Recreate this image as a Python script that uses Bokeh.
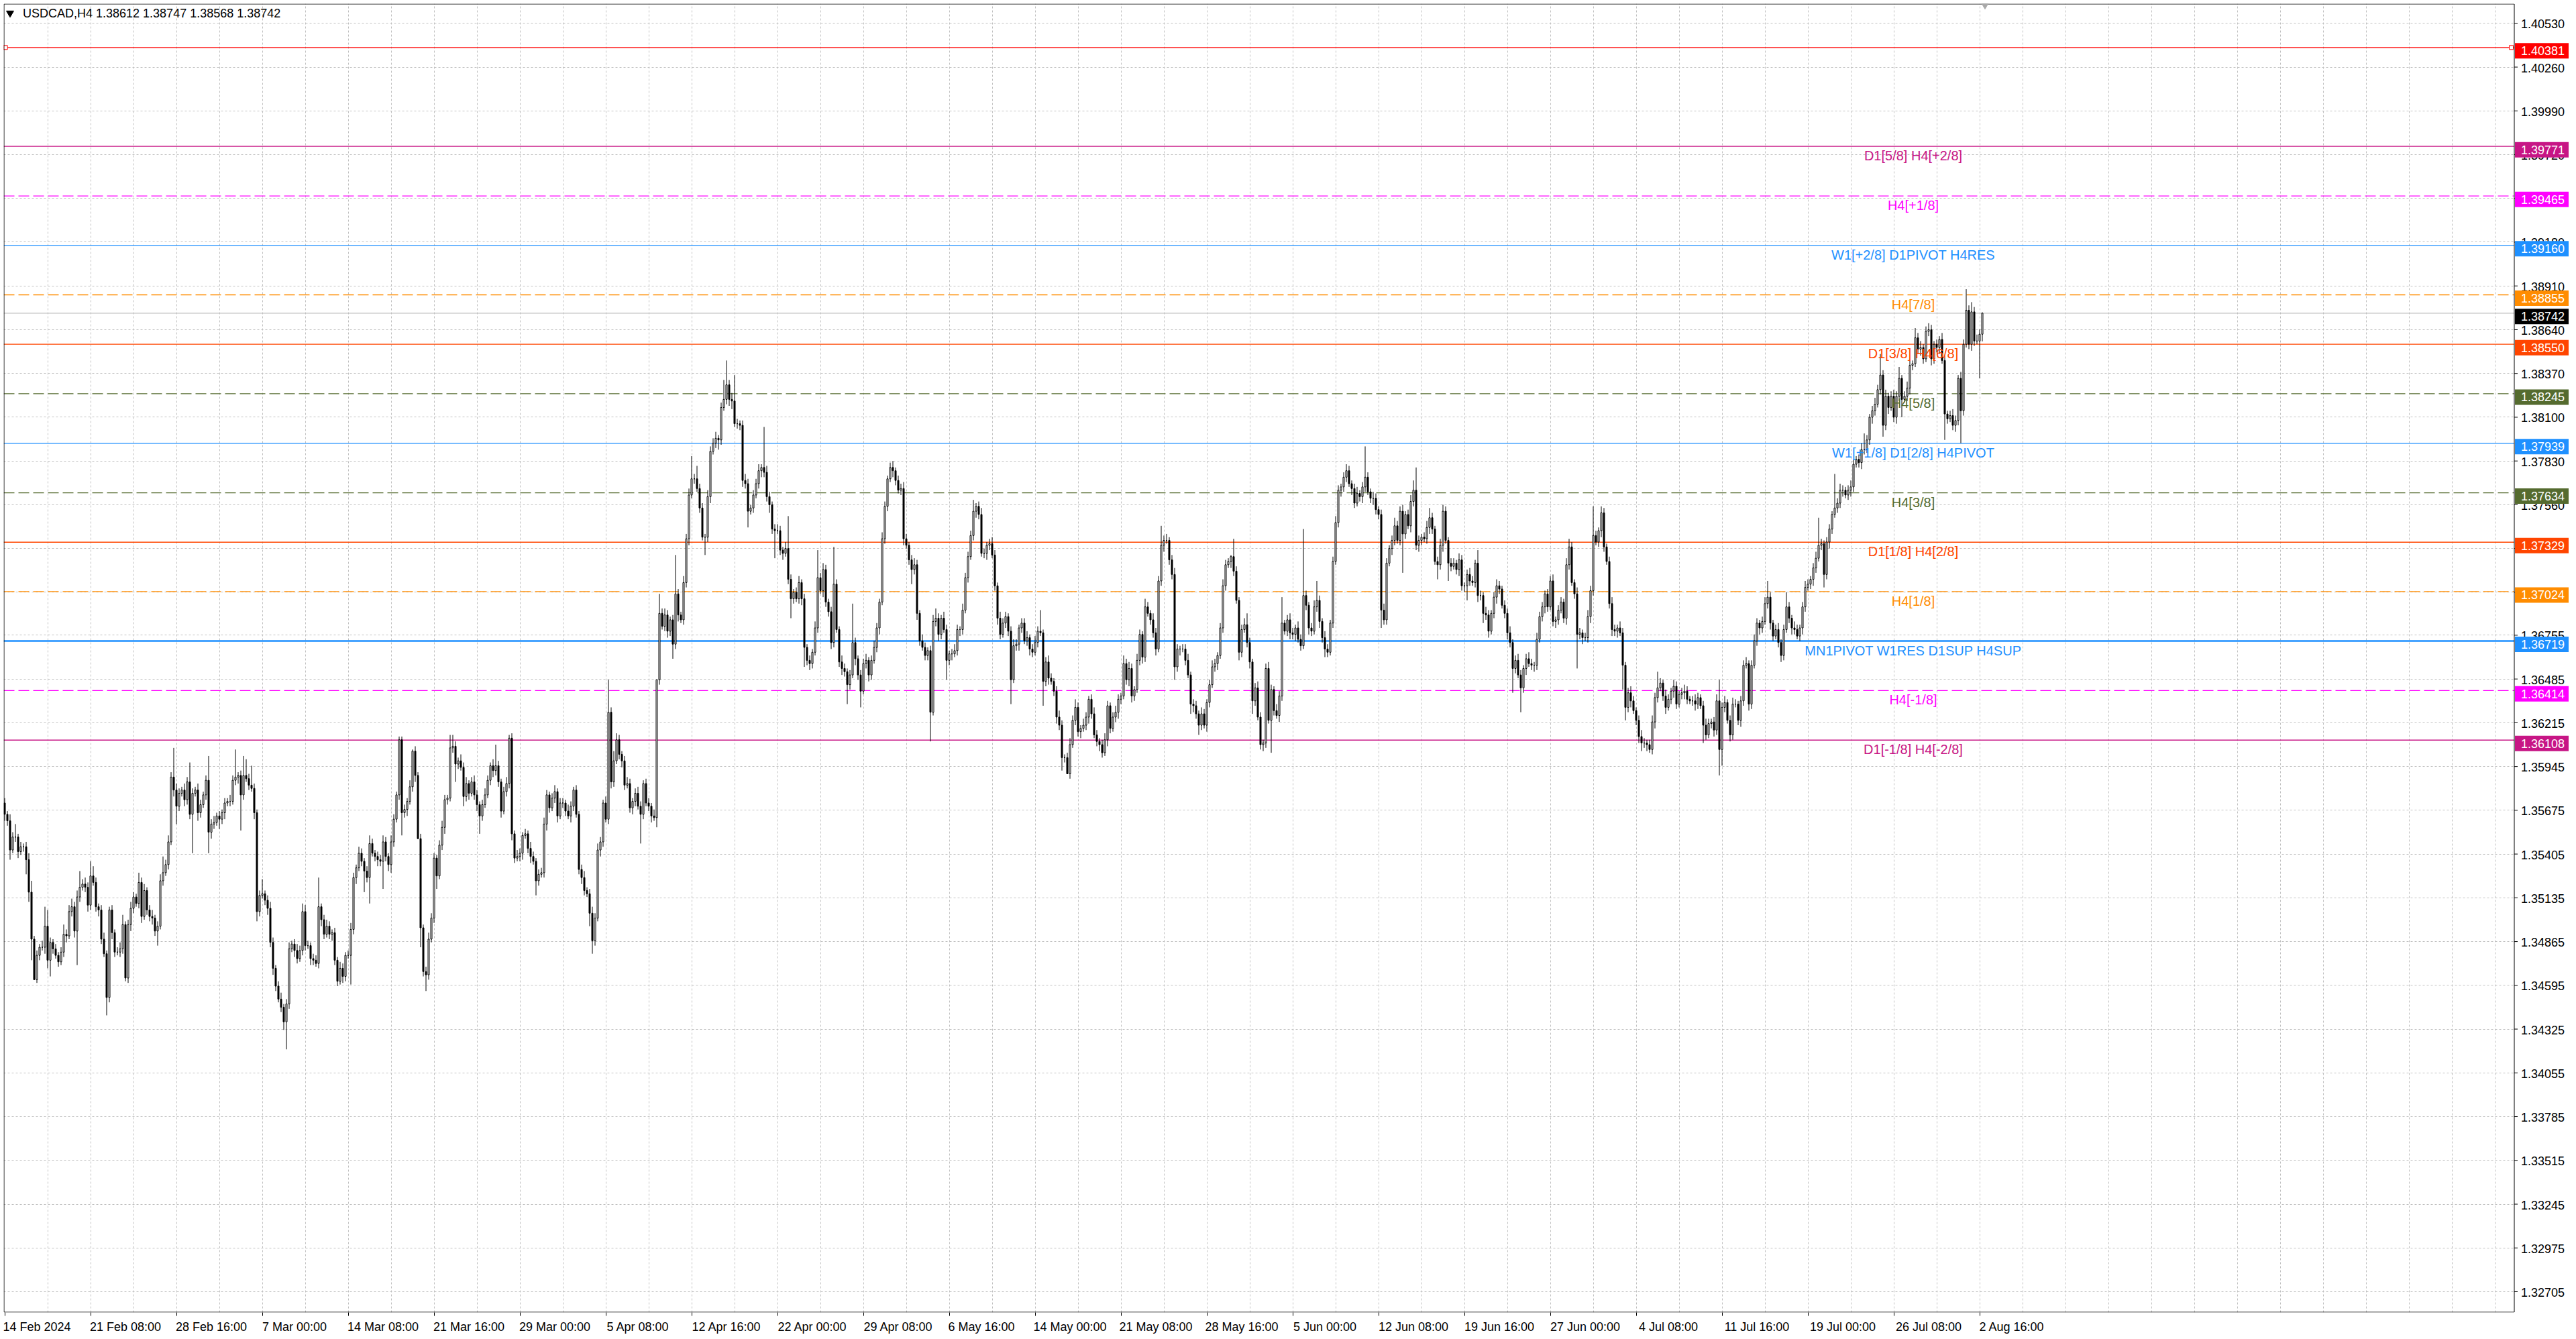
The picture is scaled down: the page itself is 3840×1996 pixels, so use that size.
import numpy as np
from bokeh.plotting import figure
from bokeh.models import FixedTicker, Label
from bokeh.core.properties import value
from bokeh.embed import file_html
from bokeh.resources import INLINE

# USDCAD H4 candles, 14 Feb - 2 Aug 2024.
# prices are pips above 1.3400; open of a bar = close of the bar before
first_open = 172
closes = [
    165, 161, 143, 151, 151, 142, 145, 145, 137, 117, 88, 63, 78, 83, 83, 96, 75, 86, 82, 78,
    74, 80, 91, 90, 105, 108, 93, 114, 120, 122, 120, 109, 127, 123, 108, 106, 88, 79, 52, 106,
    92, 80, 80, 82, 97, 64, 97, 107, 114, 110, 123, 102, 118, 106, 102, 101, 93, 96, 124, 129,
    134, 148, 188, 180, 170, 178, 180, 174, 185, 165, 178, 180, 166, 171, 177, 186, 154, 159, 160, 164,
    162, 166, 172, 173, 173, 186, 188, 189, 177, 189, 187, 183, 181, 166, 105, 115, 116, 112, 107, 86,
    70, 59, 51, 46, 37, 48, 82, 85, 81, 76, 81, 105, 84, 84, 76, 75, 73, 108, 100, 91,
    96, 91, 92, 75, 62, 70, 65, 78, 78, 94, 126, 132, 141, 136, 130, 126, 147, 141, 139, 137,
    136, 148, 139, 134, 148, 162, 177, 211, 166, 168, 173, 182, 204, 189, 150, 95, 68, 66, 88, 101,
    138, 127, 146, 157, 174, 175, 206, 207, 196, 198, 194, 176, 184, 178, 185, 177, 171, 164, 171, 177,
    186, 195, 192, 195, 185, 167, 179, 184, 212, 153, 138, 139, 141, 152, 153, 144, 139, 136, 124, 128,
    129, 159, 177, 169, 175, 179, 164, 172, 172, 167, 164, 170, 180, 165, 131, 126, 118, 116, 104, 87,
    101, 143, 148, 172, 162, 228, 185, 198, 211, 202, 198, 183, 184, 169, 173, 178, 170, 165, 184, 172,
    170, 164, 163, 248, 289, 281, 288, 278, 285, 270, 301, 288, 285, 308, 335, 362, 372, 372, 366, 354,
    336, 336, 361, 389, 394, 397, 396, 416, 421, 430, 421, 420, 406, 406, 405, 371, 369, 352, 354, 362,
    369, 377, 379, 376, 361, 356, 341, 340, 340, 328, 326, 329, 310, 298, 302, 298, 308, 298, 268, 260,
    258, 265, 280, 311, 303, 316, 296, 290, 271, 307, 279, 259, 255, 253, 245, 251, 271, 261, 251, 241,
    258, 260, 251, 260, 268, 280, 296, 335, 355, 372, 379, 377, 371, 365, 366, 335, 331, 322, 316, 319,
    289, 272, 268, 263, 266, 228, 284, 286, 276, 286, 279, 260, 264, 264, 266, 279, 279, 291, 311, 324,
    337, 352, 355, 350, 326, 326, 331, 332, 325, 306, 286, 276, 283, 287, 278, 248, 269, 270, 280, 283,
    272, 274, 267, 265, 271, 278, 277, 247, 259, 249, 247, 241, 225, 220, 200, 200, 190, 208, 223, 231,
    216, 218, 220, 225, 236, 227, 214, 210, 208, 203, 211, 232, 218, 225, 228, 236, 238, 258, 248, 255,
    238, 242, 260, 276, 262, 293, 289, 285, 277, 267, 309, 331, 334, 334, 322, 313, 256, 267, 267, 267,
    260, 251, 233, 232, 227, 220, 227, 220, 234, 245, 256, 258, 263, 280, 306, 319, 321, 324, 315, 297,
    265, 279, 282, 271, 259, 235, 243, 225, 208, 209, 255, 223, 242, 229, 226, 238, 283, 278, 285, 277,
    276, 280, 273, 269, 300, 294, 280, 278, 293, 297, 284, 274, 267, 265, 283, 321, 345, 365, 367, 373,
    377, 369, 366, 357, 363, 361, 367, 373, 364, 360, 360, 353, 350, 291, 285, 320, 329, 334, 343, 334,
    352, 338, 350, 343, 358, 365, 331, 334, 336, 335, 342, 348, 341, 321, 319, 331, 352, 334, 320, 318,
    320, 316, 322, 306, 306, 313, 309, 308, 320, 300, 300, 289, 288, 278, 289, 299, 306, 304, 294, 289,
    277, 271, 255, 260, 251, 243, 255, 261, 258, 257, 257, 273, 287, 293, 301, 293, 309, 284, 285, 291,
    296, 286, 319, 330, 308, 301, 276, 277, 274, 274, 287, 303, 337, 333, 340, 351, 330, 321, 295, 279,
    278, 280, 277, 257, 231, 240, 235, 229, 223, 213, 209, 209, 208, 205, 222, 237, 243, 246, 238, 231,
    236, 241, 244, 233, 239, 240, 241, 236, 235, 235, 233, 237, 232, 220, 214, 221, 222, 217, 235, 205,
    231, 234, 223, 214, 233, 233, 223, 235, 257, 258, 233, 257, 272, 283, 280, 284, 295, 299, 283, 275,
    279, 271, 263, 279, 293, 286, 280, 279, 275, 280, 293, 305, 307, 310, 317, 323, 331, 332, 313, 333,
    341, 350, 354, 357, 365, 365, 362, 365, 367, 381, 384, 382, 390, 390, 396, 410, 414, 418, 427, 436,
    405, 423, 416, 423, 410, 423, 434, 421, 423, 428, 442, 443, 459, 452, 453, 446, 463, 464, 446, 455,
    453, 458, 445, 412, 409, 411, 405, 408, 434, 414, 455, 476, 455, 475, 457, 457, 461.2, 474.2,
]
# wick length above / below the body, pips
wick_up = [
    3, 2, 4, 3, 8, 2, 3, 2, 3, 4, 7, 2, 3, 2, 4, 12, 10, 3, 2, 3,
    2, 3, 6, 3, 4, 5, 3, 4, 10, 3, 4, 3, 9, 6, 3, 2, 3, 4, 2, 2,
    3, 2, 3, 4, 6, 2, 3, 4, 3, 2, 6, 3, 4, 2, 3, 4, 2, 3, 4, 10,
    3, 4, 3, 18, 4, 3, 2, 4, 3, 12, 3, 2, 4, 3, 2, 3, 15, 3, 4, 2,
    3, 2, 3, 2, 4, 3, 17, 2, 3, 12, 10, 3, 12, 3, 2, 3, 9, 2, 3, 4,
    3, 2, 3, 4, 2, 3, 4, 2, 3, 4, 3, 5, 4, 3, 2, 3, 3, 18, 2, 3,
    4, 3, 2, 3, 2, 4, 3, 2, 3, 4, 3, 2, 4, 3, 2, 3, 5, 3, 2, 3,
    3, 4, 3, 2, 4, 3, 2, 2, 2, 3, 2, 4, 1, 3, 2, 3, 2, 3, 4, 3,
    3, 2, 3, 4, 3, 2, 8, 7, 3, 2, 4, 3, 4, 2, 3, 4, 3, 2, 3, 4,
    3, 2, 4, 13, 3, 2, 3, 4, 2, 3, 2, 4, 3, 2, 3, 2, 4, 3, 2, 3,
    3, 4, 3, 2, 3, 4, 2, 3, 3, 2, 4, 3, 2, 3, 2, 3, 4, 2, 3, 4,
    3, 4, 3, 2, 4, 20, 3, 6, 4, 3, 2, 3, 4, 3, 2, 3, 4, 3, 2, 3,
    3, 2, 4, 0, 12, 3, 4, 3, 2, 3, 24, 3, 2, 4, 3, 4, 14, 3, 8, 3,
    3, 2, 4, 3, 3, 4, 2, 3, 12, 15, 3, 4, 16, 3, 2, 3, 4, 3, 2, 3,
    3, 4, 2, 25, 4, 3, 2, 3, 4, 3, 2, 4, 20, 3, 2, 3, 4, 2, 3, 2,
    3, 2, 4, 17, 3, 4, 3, 2, 3, 23, 3, 2, 4, 3, 2, 3, 24, 3, 2, 3,
    3, 4, 2, 3, 4, 3, 2, 4, 3, 2, 3, 4, 2, 3, 3, 4, 3, 2, 3, 4,
    3, 2, 4, 3, 2, 3, 4, 6, 3, 2, 4, 3, 2, 3, 4, 3, 2, 4, 3, 3,
    3, 7, 2, 3, 4, 3, 2, 3, 4, 3, 2, 4, 3, 3, 2, 3, 4, 3, 2, 3,
    3, 4, 2, 3, 4, 3, 13, 2, 3, 4, 3, 2, 3, 4, 3, 2, 3, 4, 3, 5,
    3, 2, 4, 3, 2, 3, 4, 3, 2, 3, 4, 3, 2, 3, 4, 3, 2, 5, 3, 4,
    3, 2, 4, 3, 2, 5, 3, 2, 4, 3, 3, 12, 3, 4, 2, 3, 4, 3, 2, 3,
    3, 4, 2, 3, 3, 2, 4, 3, 2, 3, 4, 3, 2, 3, 4, 3, 2, 1, 11, 3,
    2, 3, 4, 7, 3, 2, 3, 4, 3, 2, 3, 4, 3, 2, 4, 3, 16, 2, 3, 4,
    3, 2, 4, 3, 41, 3, 2, 3, 4, 12, 3, 2, 4, 3, 2, 3, 4, 3, 2, 3,
    4, 3, 2, 3, 4, 2, 3, 19, 3, 2, 4, 3, 2, 3, 4, 3, 2, 3, 5, 3,
    3, 4, 2, 3, 4, 6, 14, 3, 2, 3, 4, 6, 3, 2, 3, 4, 4, 3, 2, 3,
    3, 2, 4, 3, 2, 3, 4, 3, 2, 8, 3, 2, 4, 3, 2, 3, 4, 3, 2, 3,
    3, 4, 2, 3, 4, 3, 2, 3, 4, 3, 2, 4, 3, 3, 2, 3, 3, 4, 2, 3,
    3, 2, 4, 5, 3, 2, 4, 3, 2, 3, 4, 3, 18, 3, 2, 4, 3, 2, 3, 4,
    3, 2, 4, 3, 2, 3, 4, 3, 2, 3, 4, 3, 2, 3, 4, 3, 10, 3, 2, 4,
    3, 2, 4, 3, 2, 3, 4, 3, 2, 3, 4, 3, 2, 3, 4, 3, 2, 3, 4, 13,
    3, 4, 2, 3, 4, 3, 2, 3, 3, 4, 2, 3, 4, 3, 2, 3, 4, 10, 3, 2,
    3, 4, 2, 3, 9, 3, 2, 4, 3, 2, 3, 4, 3, 2, 3, 4, 17, 3, 2, 3,
    3, 2, 21, 3, 4, 3, 2, 3, 4, 3, 2, 3, 4, 10, 3, 2, 3, 4, 3, 13,
    3, 4, 2, 3, 4, 3, 7, 2, 3, 4, 3, 2, 6, 3, 4, 2, 3, 4, 3, 2,
    3, 2, 4, 3, 2, 3, 4, 3, 2, 4, 3, 13, 3, 6, 3, 4, 3, 0.5,
]
wick_dn = [
    4, 3, 6, 2, 3, 4, 2, 3, 9, 6, 13, 0, 2, 3, 2, 4, 5, 10, 3, 2,
    3, 2, 3, 4, 2, 3, 4, 21, 3, 2, 3, 4, 3, 2, 3, 4, 3, 2, 11, 3,
    4, 3, 2, 3, 3, 2, 3, 4, 3, 2, 3, 4, 2, 3, 3, 4, 3, 9, 2, 3,
    2, 3, 2, 4, 11, 3, 2, 4, 3, 3, 24, 2, 5, 3, 2, 3, 13, 4, 3, 2,
    6, 3, 4, 2, 3, 2, 3, 4, 22, 3, 2, 3, 2, 4, 6, 3, 2, 3, 4, 3,
    4, 3, 2, 3, 5, 17, 3, 2, 4, 3, 2, 3, 3, 2, 4, 3, 2, 3, 4, 3,
    2, 3, 4, 3, 3, 2, 4, 3, 2, 18, 3, 4, 2, 3, 13, 3, 16, 2, 3, 4,
    3, 17, 3, 4, 5, 3, 2, 3, 14, 3, 4, 2, 3, 4, 0, 12, 3, 10, 3, 2,
    3, 8, 2, 3, 4, 3, 2, 3, 11, 3, 2, 6, 3, 4, 2, 3, 4, 11, 3, 2,
    2, 3, 4, 3, 3, 4, 2, 3, 3, 4, 3, 2, 3, 4, 2, 3, 4, 2, 9, 3,
    2, 3, 4, 3, 2, 3, 4, 2, 3, 3, 2, 4, 3, 2, 3, 4, 3, 2, 8, 8,
    3, 2, 4, 3, 2, 3, 4, 3, 2, 3, 4, 3, 2, 3, 4, 3, 2, 18, 3, 2,
    3, 4, 2, 6, 3, 2, 3, 4, 3, 9, 3, 4, 2, 3, 3, 4, 2, 3, 2, 3,
    2, 11, 3, 4, 2, 3, 6, 3, 2, 3, 4, 5, 2, 3, 3, 4, 3, 10, 2, 3,
    2, 3, 4, 3, 3, 5, 3, 17, 2, 3, 4, 2, 3, 12, 3, 2, 3, 4, 12, 3,
    4, 3, 2, 3, 2, 4, 3, 3, 4, 3, 2, 3, 4, 3, 12, 3, 2, 4, 3, 10,
    2, 3, 4, 3, 2, 3, 4, 2, 3, 3, 2, 4, 3, 2, 3, 4, 2, 3, 9, 3,
    4, 3, 2, 3, 3, 18, 2, 3, 4, 3, 2, 12, 3, 4, 2, 3, 4, 3, 2, 3,
    2, 3, 4, 3, 2, 3, 4, 3, 2, 3, 4, 3, 2, 3, 3, 15, 2, 3, 4, 3,
    2, 3, 4, 3, 2, 3, 2, 15, 3, 4, 2, 3, 4, 3, 8, 3, 0, 3, 2, 3,
    3, 4, 2, 3, 4, 3, 2, 3, 4, 3, 2, 4, 3, 2, 3, 4, 3, 2, 3, 4,
    4, 3, 2, 3, 4, 3, 2, 3, 3, 4, 2, 3, 4, 2, 3, 3, 8, 3, 4, 2,
    3, 2, 6, 4, 3, 6, 3, 2, 4, 3, 2, 3, 4, 2, 3, 3, 2, 4, 3, 2,
    5, 3, 2, 3, 4, 8, 3, 2, 3, 4, 3, 2, 20, 3, 2, 4, 3, 2, 3, 4,
    3, 4, 2, 3, 2, 3, 4, 3, 2, 3, 4, 3, 5, 3, 2, 3, 2, 3, 4, 3,
    3, 2, 4, 3, 2, 3, 4, 3, 2, 3, 4, 3, 3, 11, 3, 3, 2, 4, 3, 2,
    3, 24, 3, 2, 4, 3, 3, 4, 3, 2, 3, 4, 3, 2, 9, 3, 4, 2, 11, 3,
    2, 3, 4, 3, 4, 9, 3, 2, 3, 4, 3, 6, 3, 4, 2, 3, 4, 3, 2, 3,
    4, 3, 15, 3, 2, 15, 3, 4, 2, 3, 4, 3, 2, 3, 4, 3, 2, 3, 4, 3,
    2, 3, 4, 3, 2, 3, 21, 3, 4, 2, 3, 4, 3, 2, 3, 4, 3, 2, 3, 4,
    3, 4, 2, 15, 8, 3, 4, 2, 3, 4, 5, 3, 4, 2, 3, 4, 3, 2, 3, 4,
    2, 3, 4, 3, 2, 3, 4, 3, 2, 3, 4, 3, 2, 11, 3, 2, 3, 4, 3, 16,
    10, 3, 2, 4, 3, 2, 3, 4, 3, 2, 4, 3, 2, 3, 4, 3, 2, 3, 4, 3,
    2, 3, 4, 3, 2, 3, 4, 3, 2, 3, 4, 3, 2, 3, 4, 3, 2, 3, 8, 3,
    4, 3, 2, 3, 3, 4, 2, 3, 4, 3, 2, 3, 4, 3, 2, 3, 4, 3, 2, 3,
    7, 3, 4, 2, 3, 4, 3, 11, 2, 3, 4, 3, 2, 3, 4, 3, 2, 3, 4, 3,
    3, 4, 2, 16, 3, 2, 3, 4, 3, 20, 3, 2, 3, 4, 3, 2, 23, 4.4,
]

time_labels = [
    "14 Feb 2024", "21 Feb 08:00", "28 Feb 16:00", "7 Mar 00:00", "14 Mar 08:00",
    "21 Mar 16:00", "29 Mar 00:00", "5 Apr 08:00", "12 Apr 16:00", "22 Apr 00:00",
    "29 Apr 08:00", "6 May 16:00", "14 May 00:00", "21 May 08:00", "28 May 16:00",
    "5 Jun 00:00", "12 Jun 08:00", "19 Jun 16:00", "27 Jun 00:00", "4 Jul 08:00",
    "11 Jul 16:00", "19 Jul 00:00", "26 Jul 08:00", "2 Aug 16:00",
]
bars_per_label = 32
bars_per_grid = 16

price_ticks = [
    1.40530, 1.40260, 1.39990, 1.39720, 1.39450, 1.39180, 1.38910, 1.38640, 1.38370, 1.38100,
    1.37830, 1.37560, 1.37290, 1.37020, 1.36755, 1.36485, 1.36215, 1.35945, 1.35675, 1.35405,
    1.35135, 1.34865, 1.34595, 1.34325, 1.34055, 1.33785, 1.33515, 1.33245, 1.32975, 1.32705,
]
hidden_ticks = [1.37290, 1.37020, 1.39450]

level_prices = [1.40381, 1.39771, 1.39465, 1.39160, 1.38855, 1.38550, 1.38245, 1.37939,
                1.37634, 1.37329, 1.37024, 1.36719, 1.36414, 1.36108]
level_texts = ["", "D1[5/8] H4[+2/8]", "H4[+1/8]", "W1[+2/8] D1PIVOT H4RES", "H4[7/8]",
               "D1[3/8] H4[6/8]", "H4[5/8]", "W1[+1/8] D1[2/8] H4PIVOT", "H4[3/8]",
               "D1[1/8] H4[2/8]", "H4[1/8]", "MN1PIVOT W1RES D1SUP H4SUP", "H4[-1/8]",
               "D1[-1/8] H4[-2/8]"]
last_price = 1.38742
header_text = "USDCAD,H4  1.38612 1.38747 1.38568 1.38742"

# styles of the level lines
level_colors = ["#ff0000", "#c71585", "#ff00ff", "#1e90ff", "#ff8c00", "#ff4500", "#556b2f",
                "#1e90ff", "#556b2f", "#ff4500", "#ff8c00", "#1e90ff", "#ff00ff", "#c71585"]
level_dashes = ["solid", "solid", "16 6", "solid", "16 6", "solid", "16 6",
                "solid", "16 6", "solid", "16 6", "solid", "16 6", "solid"]
level_widths = [1.3, 1.3, 1.3, 1.3, 1.3, 1.3, 1.3, 1.3, 1.3, 1.3, 1.3, 2.5, 1.3, 1.3]

FONT = "Liberation Sans"

# ---- ohlc arrays ----
c = 1.34 + np.array(closes, dtype=float) / 1e4
o = np.concatenate([[1.34 + first_open / 1e4], c[:-1]])
h = np.maximum(o, c) + np.array(wick_up, dtype=float) / 1e4
l = np.minimum(o, c) - np.array(wick_dn, dtype=float) / 1e4
xb = np.arange(len(c))
rise = c >= o

# 4 px per bar; the frame also holds the price scale strip on the right
PX = 4.0
fw, fh = 3830, 1951
x_lo = -0.375
x_hi = x_lo + fw / PX
edge = 935.25                     # right border of the chart area
y_hi, y_lo = 1.406513, 1.325766
py = (y_hi - y_lo) / fh           # price per pixel

p = figure(frame_width=fw, frame_height=fh, x_range=(x_lo, x_hi), y_range=(y_lo, y_hi),
           output_backend="svg", toolbar_location=None, y_axis_location=None,
           min_border_left=5, min_border_top=5, min_border_right=0, min_border_bottom=36,
           background_fill_color="white", border_fill_color="white")
p.outline_line_color = None

# grid
p.grid.grid_line_color = "#c0c0c0"
p.grid.grid_line_dash = "3 3"
p.xgrid.ticker = FixedTicker(ticks=list(range(bars_per_grid, int(edge), bars_per_grid)))
p.ygrid.ticker = FixedTicker(ticks=price_ticks)

# time axis: tick marks at the label's bar, text left-aligned from there
starts = [k * bars_per_label for k in range(len(time_labels))]
centers = [s + int(round(len(t) * 1.1)) for s, t in zip(starts, time_labels)]
p.xaxis.ticker = FixedTicker(ticks=centers, minor_ticks=starts)
p.xaxis.major_label_overrides = {cc: t for cc, t in zip(centers, time_labels)}
p.xaxis.major_label_text_font = FONT
p.xaxis.major_label_text_font_size = "18px"
p.xaxis.major_label_text_color = "black"
p.xaxis.major_tick_line_color = None
p.xaxis.major_tick_in = 0
p.xaxis.major_tick_out = 0
p.xaxis.minor_tick_in = 0
p.xaxis.minor_tick_out = 5
p.xaxis.minor_tick_line_color = "black"
p.xaxis.axis_line_color = None
p.xaxis.major_label_standoff = 6

# white strip for the price scale (hides the grid there)
p.quad(left=[edge], right=[x_hi], bottom=[y_lo], top=[y_hi], fill_color="white",
       line_color=None)

# level lines
for price, col, dash, w in zip(level_prices, level_colors, level_dashes, level_widths):
    p.segment(x0=[x_lo], y0=[price], x1=[edge], y1=[price], line_color=col,
              line_width=w, line_dash=dash)
p.segment(x0=[x_lo], y0=[last_price], x1=[edge], y1=[last_price], line_color="#c0c0c0",
          line_width=1.3)
p.scatter(x=[0.3, edge - 1.1], y=[level_prices[0]] * 2, marker="square", size=6,
          fill_color="white", line_color="#ff0000")

# candles
p.segment(x0=xb, y0=l, x1=xb, y1=h, line_color="black", line_width=1)
p.vbar(x=xb[rise], bottom=o[rise], top=c[rise], width=0.5, fill_color="white",
       line_color="black", line_width=1)
p.vbar(x=xb[~rise], bottom=c[~rise], top=o[~rise], width=0.5, fill_color="black",
       line_color="black", line_width=1)

# level names
for price, txt, col in zip(level_prices, level_texts, level_colors):
    if txt:
        p.text(x=[711.25], y=[price], text=[txt], text_color=col, text_align="center",
               text_baseline="top", y_offset=3, text_font=value(FONT),
               text_font_size="20px")

# chart border
left_b, top_b, bot_b = x_lo + 0.5 / PX, y_hi - 0.5 * py, y_lo + 0.5 * py
p.segment(x0=[left_b, left_b, left_b, edge], y0=[top_b, bot_b, bot_b, bot_b],
          x1=[edge, edge, left_b, edge], y1=[top_b, bot_b, top_b, top_b],
          line_color="black", line_width=1)

# price scale: tick marks and labels
shown = [t for t in price_ticks if t not in hidden_ticks]
p.segment(x0=[edge] * len(price_ticks), y0=price_ticks, x1=[edge + 5 / PX] * len(price_ticks),
          y1=price_ticks, line_color="black", line_width=1)
p.text(x=[edge] * len(shown), y=shown, text=[f"{t:.5f}" for t in shown], x_offset=10,
       y_offset=1, text_align="left", text_baseline="middle", text_color="black",
       text_font=value(FONT), text_font_size="18px")

# header
y_head = y_hi - 14 * py
p.scatter(x=[2.0], y=[y_head], marker="inverted_triangle", size=11, color="black")
p.add_layout(Label(x=6.75, y=y_head, text=header_text, text_font=FONT,
                   text_font_size="18px", text_color="black", text_baseline="middle"))
p.scatter(x=[738], y=[y_hi], marker="inverted_triangle", size=14, color="#a9a9a9")

# price tags on the scale (MT4 draws them a few pixels below their line)
tag_prices = level_prices + [last_price]
tag_colors = level_colors + ["black"]
tag_cx = edge + 0.25 + 40 / PX
tag_drop = 5
p.rect(x=[tag_cx] * len(tag_prices), y=[t - tag_drop * py for t in tag_prices], width=80,
       height=23, width_units="screen", height_units="screen", fill_color=tag_colors,
       line_color=None)
p.text(x=[edge] * len(tag_prices), y=tag_prices, text=[f"{t:.5f}" for t in tag_prices],
       x_offset=10, y_offset=tag_drop, text_align="left", text_baseline="middle",
       text_color="white", text_font=value(FONT), text_font_size="18px")

open("out.html", "w").write(file_html(p, INLINE))
